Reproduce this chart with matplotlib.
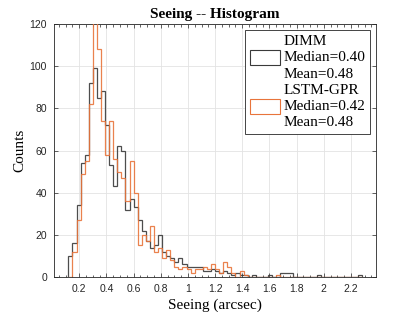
import matplotlib
matplotlib.use("Agg")
import matplotlib.pyplot as plt
from matplotlib.patches import Patch
from matplotlib.ticker import MultipleLocator
import numpy as np

# histogram bins: left edge of first bin and bin width (arcsec)
BIN_START = 0.12
BIN_WIDTH = 0.03

# counts per bin
dimm = [10, 16, 34, 54, 58, 92, 99, 85, 88, 72,
        53, 43, 62, 60, 32, 37, 33, 27, 22, 17,
        14, 15, 20, 12, 10, 9, 7, 9, 6, 5,
        5, 5, 5, 3, 3, 4, 3, 2, 3, 2,
        1, 2, 1, 1, 0, 1, 0, 0, 0, 1,
        0, 0, 2, 2, 2, 0, 0, 0, 0, 0,
        0, 1, 0, 0, 0, 0, 0, 0, 0, 0,
        0, 1]
lstm = [0, 12, 27, 49, 55, 82, 130, 108, 74, 58,
        74, 56, 50, 47, 36, 55, 40, 15, 20, 17,
        24, 12, 14, 9, 13, 8, 5, 4, 5, 4,
        2, 4, 4, 5, 4, 6, 4, 2, 7, 5,
        2, 0, 3, 1, 0, 0, 0, 0, 0, 0,
        0, 1, 0, 0, 0, 0, 0, 0, 0, 0,
        0, 0, 0, 0, 0, 0, 0, 0, 0, 0,
        0, 0]

LABELS = ["DIMM\nMedian=0.40\nMean=0.48", "LSTM-GPR\nMedian=0.42\nMean=0.48"]
C_DIMM, C_LSTM = "#3a3a3a", "#e8743b"
SERIF = ["Liberation Serif", "DejaVu Serif"]

edges = BIN_START + BIN_WIDTH * np.arange(len(dimm) + 1)

fig = plt.figure(figsize=(4.15, 3.12), dpi=100)
ax = fig.add_axes([0.130, 0.112, 0.776, 0.811])

ax.stairs(dimm, edges, baseline=0, color=C_DIMM, lw=0.9, alpha=0.9, zorder=3)
ax.stairs(lstm, edges, baseline=0, color=C_LSTM, lw=0.9, alpha=0.9, zorder=3)

ax.set_xlim(0.014, 2.384)
ax.set_ylim(0, 120)
ax.xaxis.set_minor_locator(MultipleLocator(0.05))
ax.yaxis.set_major_locator(MultipleLocator(20))
ticks = np.round(np.arange(0.2, 2.21, 0.2), 1)
ax.set_xticks(ticks)
ax.set_xticklabels([f"{v:g}" for v in ticks])
ax.grid(True, which="major", color="#e3e3e3", lw=0.6, zorder=0)
ax.set_axisbelow(True)
ax.tick_params(which="both", direction="in", top=True, right=True,
               colors="#262626", labelsize=7.5, width=0.5)
ax.tick_params(which="major", length=3, pad=5)
ax.tick_params(which="minor", length=1.8)
for lab in ax.get_xticklabels() + ax.get_yticklabels():
    lab.set_family(["Liberation Sans", "DejaVu Sans"])
for sp in ax.spines.values():
    sp.set_color("#262626")
    sp.set_linewidth(0.6)

ax.set_title("Seeing -- Histogram", family=SERIF, fontsize=11, fontweight="bold", pad=4)
ax.set_xlabel("Seeing (arcsec)", family=SERIF, fontsize=11, labelpad=3)
ax.set_ylabel("Counts", family=SERIF, fontsize=11, labelpad=2)

handles = [Patch(facecolor="none", edgecolor=C_DIMM, lw=0.8),
           Patch(facecolor="none", edgecolor=C_LSTM, lw=0.8)]
leg = ax.legend(handles, LABELS, loc="upper right", prop={"family": SERIF, "size": 11},
                frameon=True, fancybox=False, framealpha=1, edgecolor="#262626",
                borderaxespad=0.4, handlelength=2.0, handleheight=1.1,
                handletextpad=0.2, borderpad=0.3, labelspacing=0.2)
leg.get_frame().set_linewidth(0.6)
for t in leg.get_texts():
    t.set_linespacing(1.34)

fig.savefig("out.png", dpi=100)
